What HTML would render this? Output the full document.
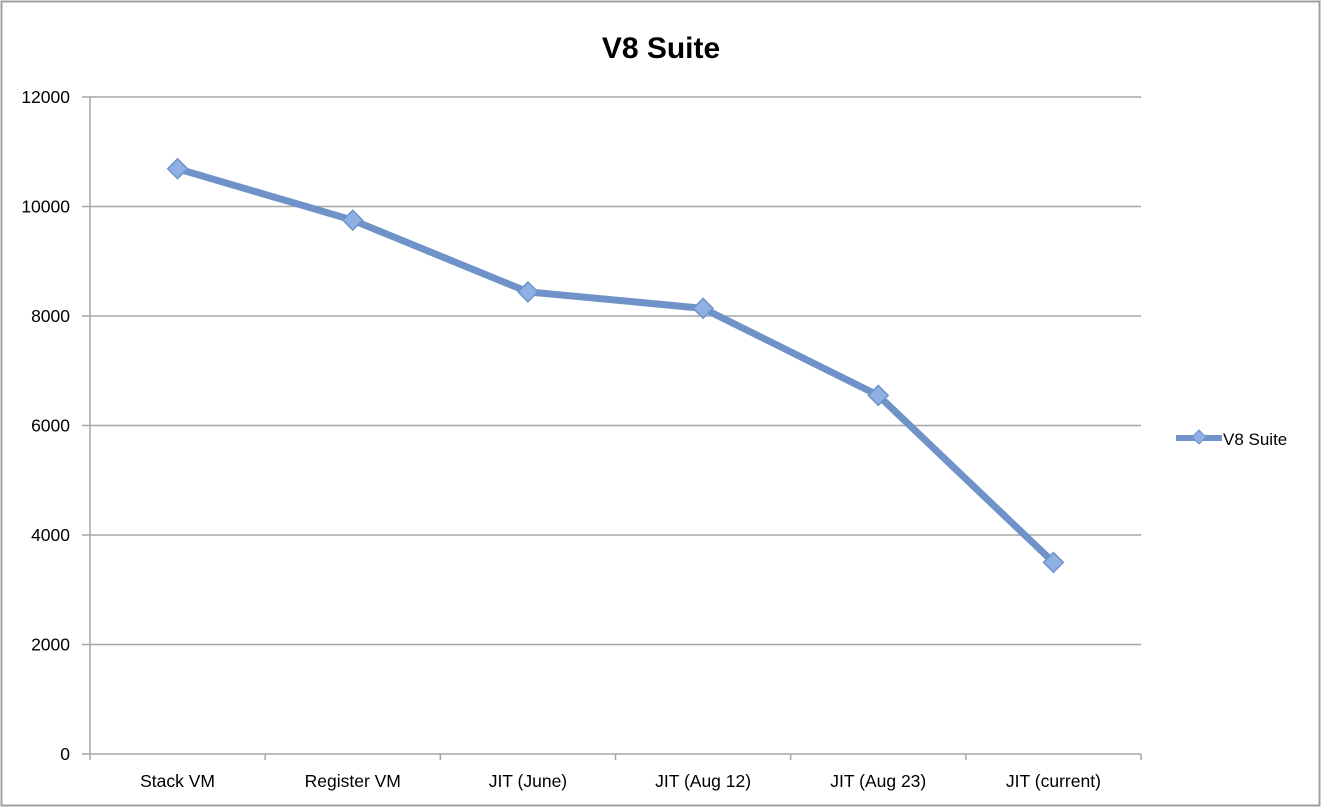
<!DOCTYPE html>
<html><head><meta charset="utf-8"><style>
body{margin:0;background:#fff}
svg{display:block;font-family:"Liberation Sans",sans-serif}
</style></head><body>
<svg id="chart" width="1322" height="808">
<rect x="1.5" y="1.5" width="1318" height="804" fill="#fff" stroke="#a0a0a0" stroke-width="2"/>
<text x="661" y="58" text-anchor="middle" font-size="30" font-weight="bold">V8 Suite</text>
<g id="grid"></g><g id="axes"></g><g id="series"></g>
<g>
<line x1="1176" y1="438" x2="1222" y2="438" stroke="#6f93c9" stroke-width="6"/>
<rect x="1194" y="432" width="10" height="10" fill="#8eb0e2" stroke="#6f93c9" transform="rotate(45 1199 437)"/>
<text x="1223" y="445" font-size="17">V8 Suite</text>
</g>
</svg>
<script>
const categories=["Stack VM","Register VM","JIT (June)","JIT (Aug 12)","JIT (Aug 23)","JIT (current)"];
const values=[10690,9750,8440,8140,6550,3500];
const yTicks=[0,2000,4000,6000,8000,10000,12000];
const NS="http://www.w3.org/2000/svg";
const L=90,R=1141,T=97,B=754,yMax=12000;
const bw=(R-L)/categories.length;
const xs=i=>L+bw*(i+0.5);
const ys=v=>B-(v/yMax)*(B-T);
function mk(tag,attrs,parent,txt){const e=document.createElementNS(NS,tag);for(const k in attrs)e.setAttribute(k,attrs[k]);if(txt!=null)e.textContent=txt;parent.appendChild(e);return e;}
const grid=document.getElementById('grid'),axes=document.getElementById('axes'),ser=document.getElementById('series');
yTicks.forEach(t=>{
 const y=ys(t);
 const g=mk('line',{x1:82,x2:R,y1:y,y2:y,stroke:'#a6a6a6','stroke-width':1.5},grid);
 
 
 const lb=mk('text',{x:70,y:y+6,'text-anchor':'end','font-size':17.5},axes,String(t));
 
 
});
const ax=mk('line',{x1:L,x2:L,y1:T,y2:B,stroke:'#a6a6a6','stroke-width':1.5},axes);


for(let i=0;i<=categories.length;i++){
 const x=L+bw*i;
 const tk=mk('line',{x1:x,x2:x,y1:B,y2:B+6,stroke:'#a6a6a6','stroke-width':1.5},axes);
 
 
}
categories.forEach((c,i)=>{
 const t=mk('text',{x:xs(i),y:787,'text-anchor':'middle','font-size':17.5},axes,c);
 
 
});
const pts=values.map((v,i)=>xs(i)+','+ys(v)).join(' ');
const pl=mk('polyline',{points:pts,fill:'none',stroke:'#6f93c9','stroke-width':7,'stroke-linejoin':'round'},ser);


values.forEach((v,i)=>{
 const x=xs(i),y=ys(v);
 const m=mk('rect',{x:x-7,y:y-7,width:14,height:14,fill:'#8eb0e2',stroke:'#6f93c9','stroke-width':1.5,transform:`rotate(45 ${x} ${y})`},ser);
 
 
});
</script>
</body></html>
